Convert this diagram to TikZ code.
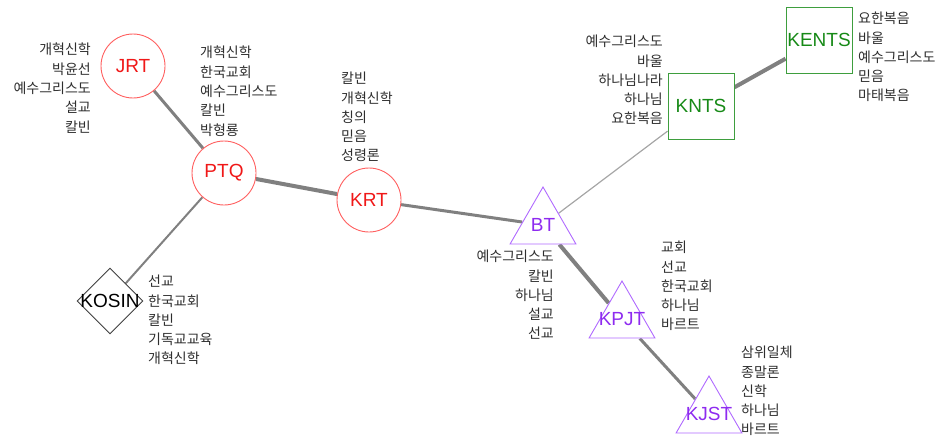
\documentclass[tikz,border=0pt]{standalone}
\usepackage{fontspec}
\setmainfont{Liberation Sans}
\newfontfamily\kr{Noto Sans CJK KR}
\usetikzlibrary{shapes.geometric, backgrounds}

\definecolor{redline}{HTML}{FF5F5F}
\definecolor{redtext}{HTML}{F01818}
\definecolor{greenline}{HTML}{3E9E3E}
\definecolor{greentext}{HTML}{178A17}
\definecolor{purpleline}{HTML}{B06AFF}
\definecolor{purpletext}{HTML}{8E2BF0}
\definecolor{wordgray}{HTML}{2E2E2E}

\begin{document}
\begin{tikzpicture}[x=1pt, y=-1pt,
  circ/.style={circle, draw=redline, line width=0.9pt, fill=white, text=redtext, minimum size=64pt, inner sep=0pt, font=\fontsize{19}{19}\selectfont},
  sq/.style={rectangle, draw=greenline, line width=0.9pt, fill=white, text=greentext, minimum size=66pt, inner sep=0pt, font=\fontsize{19}{19}\selectfont},
  tri/.style={regular polygon, regular polygon sides=3, draw=purpleline, line width=0.9pt, fill=white, minimum size=76pt, inner sep=0pt},
  dia/.style={diamond, draw=black!75, line width=0.9pt, fill=white, minimum width=66pt, minimum height=66pt, inner sep=0pt},
  tag/.style={font=\fontsize{19}{19}\selectfont, inner sep=0pt},
  words/.style={font=\kr\fontsize{14}{19.3}\selectfont, text=wordgray, inner sep=0pt},
  link/.style={draw=gray}]

  % Fix the page size
  \useasboundingbox (0,0) rectangle (939,436);

  % Draw the journals
  \node[circ] (JRT) at (133,66) {JRT};
  \node[circ] (PTQ) at (224,173) {PTQ};
  \node[circ] (KRT) at (369,200) {KRT};
  \node[dia, label={[tag, text=black]center:KOSIN}] (KOSIN) at (110,301) {};
  \node[tri, label={[tag, text=purpletext]center:BT}] (BT) at (543,225) {};
  \node[tri, label={[tag, text=purpletext]center:KPJT}] (KPJT) at (622,319) {};
  \node[tri, label={[tag, text=purpletext]center:KJST}] (KJST) at (709,414) {};
  \node[sq] (KNTS) at (701,106) {KNTS};
  \node[sq] (KENTS) at (819,40) {KENTS};

  % Draw the links behind the journals
  \begin{scope}[on background layer]
    \draw[link, line width=3pt] (JRT) -- (PTQ);
    \draw[link, line width=4pt] (PTQ) -- (KRT);
    \draw[link, line width=2pt] (PTQ) -- (KOSIN);
    \draw[link, line width=3pt] (KRT) -- (BT);
    \draw[gray!70, line width=1.2pt] (BT) -- (KNTS);
    \draw[link, line width=4pt] (KNTS) -- (KENTS);
    \draw[link, line width=4pt] (BT) -- (KPJT);
    \draw[link, line width=3pt] (KPJT) -- (KJST);
  \end{scope}

  % Label the keywords
  \node[words, align=right, anchor=north east] (JRTwords) at (91,43) {개혁신학\\박윤선\\예수그리스도\\설교\\칼빈};
  \node[words, align=left, anchor=north west] (PTQwords) at (200,46) {개혁신학\\한국교회\\예수그리스도\\칼빈\\박형룡};
  \node[words, align=left, anchor=north west] (KRTwords) at (341,72) {칼빈\\개혁신학\\칭의\\믿음\\성령론};
  \node[words, align=left, anchor=north west] (KOSINwords) at (148,275) {선교\\한국교회\\칼빈\\기독교교육\\개혁신학};
  \node[words, align=right, anchor=north east] (BTwords) at (554,250) {예수그리스도\\칼빈\\하나님\\설교\\선교};
  \node[words, align=left, anchor=north west] (KPJTwords) at (661,241) {교회\\선교\\한국교회\\하나님\\바르트};
  \node[words, align=left, anchor=north west] (KJSTwords) at (741,346) {삼위일체\\종말론\\신학\\하나님\\바르트};
  \node[words, align=right, anchor=north east] (KNTSwords) at (663,35) {예수그리스도\\바울\\하나님나라\\하나님\\요한복음};
  \node[words, align=left, anchor=north west] (KENTSwords) at (858,12) {요한복음\\바울\\예수그리스도\\믿음\\마태복음};

\end{tikzpicture}
\end{document}
